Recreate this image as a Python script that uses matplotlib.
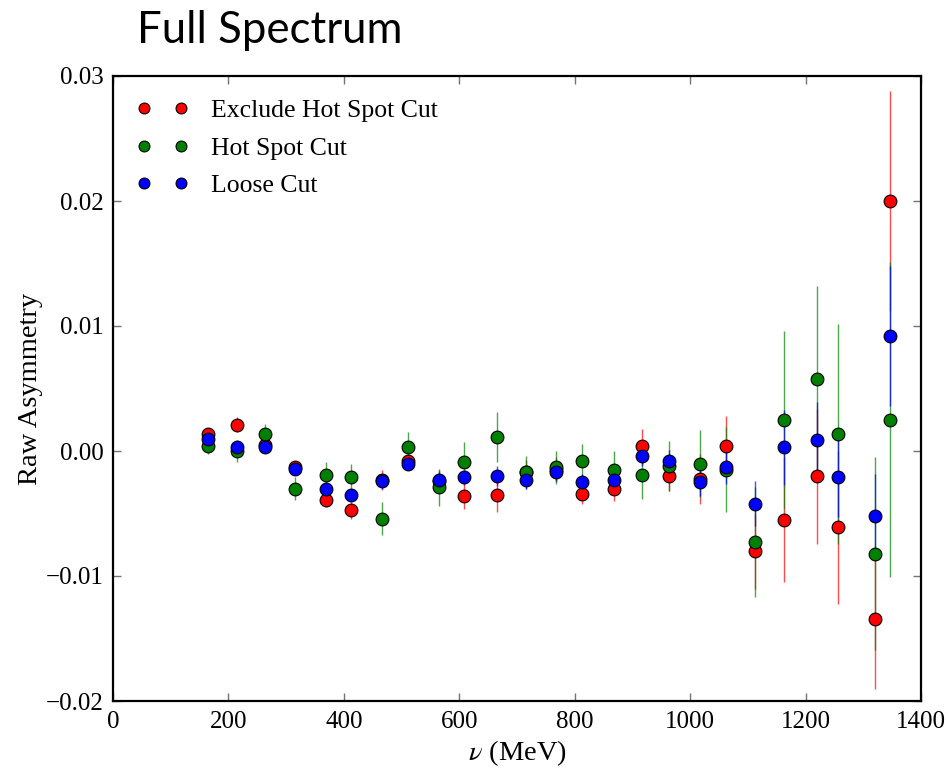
import matplotlib
matplotlib.use("Agg")
import matplotlib.pyplot as plt
from matplotlib.ticker import MultipleLocator

plt.rcParams['font.family'] = ['Liberation Serif', 'DejaVu Serif']
plt.rcParams['mathtext.fontset'] = 'stix'

nu = [165, 214, 264, 315, 369, 413, 466, 512, 565, 609, 666, 716, 767, 813,
      868, 916, 964, 1017, 1062, 1112, 1163, 1220, 1256, 1320, 1347]

red = [0.0014, 0.0021, 0.0005, -0.0013, -0.0039, -0.0047, -0.0023, -0.0008,
       -0.0024, -0.0036, -0.0035, -0.0017, -0.0015, -0.0034, -0.0030, 0.0004,
       -0.0020, -0.0022, 0.0004, -0.0080, -0.0055, -0.0020, -0.0061, -0.0134, 0.0200]
red_err = [0.0004, 0.0006, 0.0004, 0.0005, 0.0006, 0.0007, 0.0008, 0.0006,
           0.0009, 0.0010, 0.0014, 0.0010, 0.0010, 0.0008, 0.0010, 0.0014,
           0.0012, 0.0020, 0.0024, 0.0030, 0.0050, 0.0054, 0.0061, 0.0056, 0.0088]

green = [0.0004, 0.0000, 0.0014, -0.0030, -0.0019, -0.0021, -0.0054, 0.0003,
         -0.0029, -0.0009, 0.0011, -0.0017, -0.0013, -0.0008, -0.0015, -0.0019,
         -0.0012, -0.0010, -0.0015, -0.0073, 0.0025, 0.0058, 0.0014, -0.0082, 0.0025]
green_err = [0.0006, 0.0009, 0.0008, 0.0009, 0.0010, 0.0011, 0.0013, 0.0012,
             0.0015, 0.0016, 0.0020, 0.0013, 0.0013, 0.0014, 0.0015, 0.0019,
             0.0020, 0.0027, 0.0034, 0.0044, 0.0071, 0.0074, 0.0088, 0.0077, 0.0126]

blue = [0.0010, 0.0003, 0.0003, -0.0014, -0.0030, -0.0035, -0.0024, -0.0010,
        -0.0023, -0.0021, -0.0020, -0.0023, -0.0017, -0.0025, -0.0023, -0.0004,
        -0.0008, -0.0025, -0.0013, -0.0042, 0.0003, 0.0009, -0.0021, -0.0052, 0.0092]
blue_err = [0.0003, 0.0004, 0.0003, 0.0004, 0.0005, 0.0005, 0.0006, 0.0005,
            0.0006, 0.0006, 0.0008, 0.0007, 0.0007, 0.0007, 0.0007, 0.0008,
            0.0009, 0.0011, 0.0013, 0.0018, 0.0030, 0.0030, 0.0032, 0.0034, 0.0056]

series = [
    ("Exclude Hot Spot Cut", red, red_err, (1, 0, 0)),
    ("Hot Spot Cut", green, green_err, (0, 0.5, 0)),
    ("Loose Cut", blue, blue_err, (0, 0, 1)),
]

fig = plt.figure(figsize=(9.49, 7.70), dpi=100)
ax = fig.add_axes([113/949, 1 - 701/770, 808/949, 625/770])

handles = []
for label, y, e, c in series:
    eb = ax.errorbar(nu, y, yerr=e, fmt='o', color=c, ecolor=c, elinewidth=1.0,
                     capsize=0, markersize=9.2, markeredgecolor='k',
                     markeredgewidth=0.8, label=label)
    for lc in eb[2]:
        lc.set_alpha(0.7)
    handles.append(eb[0])

ax.set_xlim(0, 1400)
ax.set_ylim(-0.02, 0.03)
ax.xaxis.set_major_locator(MultipleLocator(200))
ax.yaxis.set_major_locator(MultipleLocator(0.01))
ax.tick_params(direction='in', top=True, right=True, length=6, width=1,
               color='0.45', labelsize=18, pad=7, labelcolor='black')
for s in ax.spines.values():
    s.set_linewidth(1.6)

ax.set_xlabel(r'$\nu$ (MeV)', fontsize=20.5, labelpad=4)
ax.set_ylabel('Raw Asymmetry', fontsize=20.5, labelpad=2)

ax.legend(handles=handles, labels=[s[0] for s in series], loc='upper left',
          frameon=False, numpoints=2, fontsize=18.5, handlelength=2.05,
          handletextpad=0.85, labelspacing=0.57, markerscale=0.85)

fig.text(137/949, 1 - 43/770, 'Full Spectrum', family='Lato', fontsize=31.5,
         va='baseline', ha='left')

fig.savefig('out.png', dpi=100)
